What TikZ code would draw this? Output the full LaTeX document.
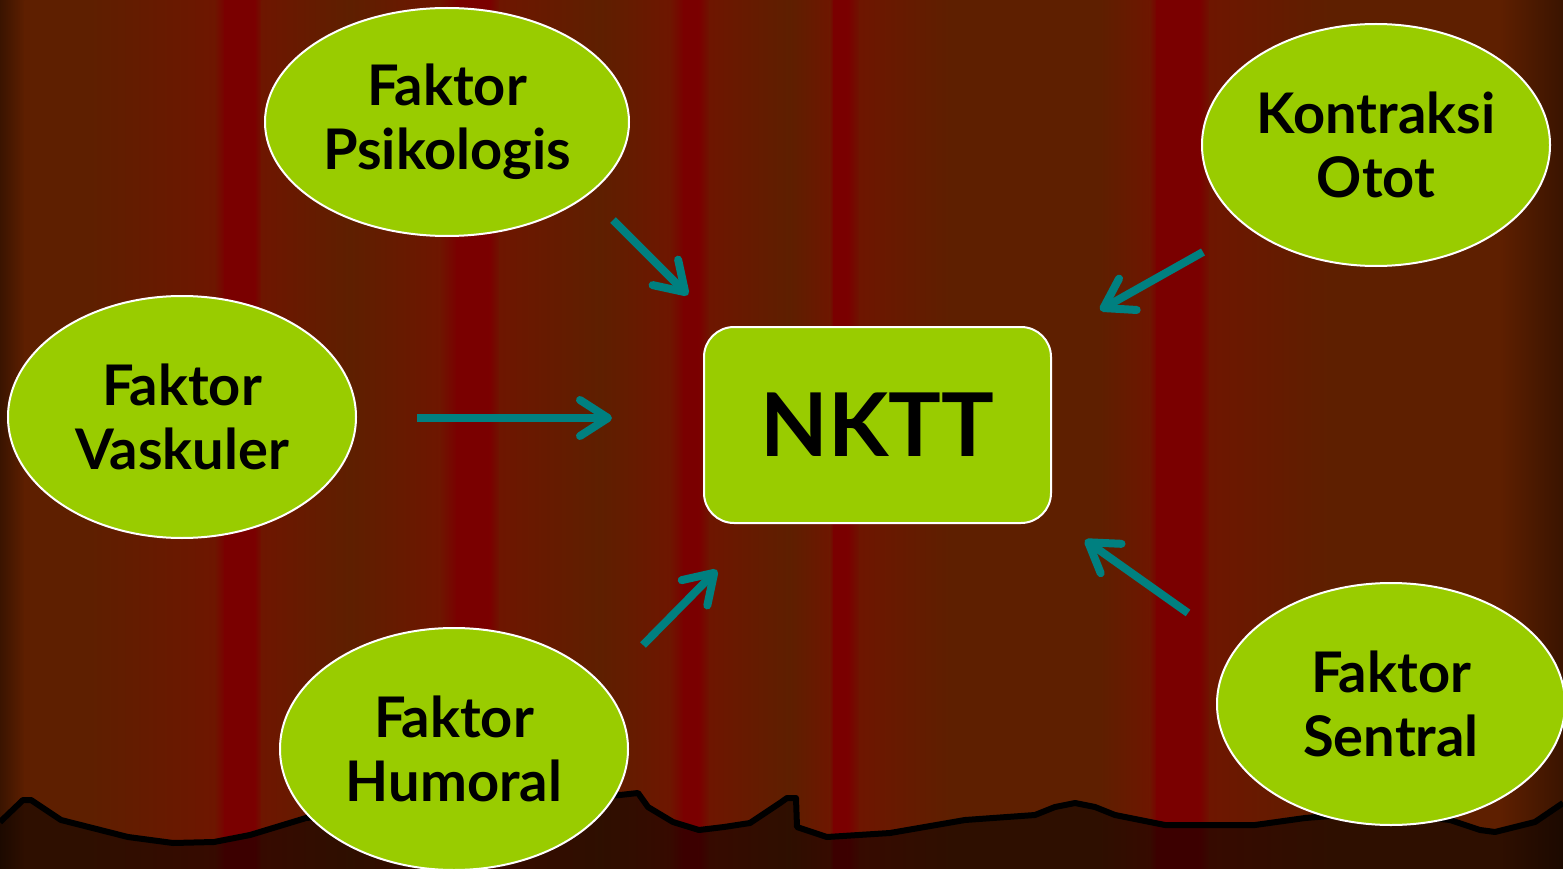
\documentclass[tikz,border=0pt]{standalone}
\usepackage{fontspec}
\setmainfont{Lato}
\usetikzlibrary{shapes.geometric,arrows.meta}
\definecolor{lime}{HTML}{99CC00}
\definecolor{teal}{HTML}{008080}
\definecolor{edge}{HTML}{3A1400}
\definecolor{brn}{HTML}{5E1F00}
\definecolor{mid}{HTML}{6E1600}
\definecolor{rd}{HTML}{7A0000}
\tikzset{
  ell/.style={ellipse, draw=white, line width=2pt, fill=lime, inner sep=0pt,
    minimum width=348pt, minimum height=242pt, align=center,
    font=\fontsize{56}{64}\selectfont\bfseries},
  centrebox/.style={rectangle, rounded corners=30pt, draw=white, line width=2pt,
    fill=lime, minimum width=347pt, minimum height=196pt,
    font=\fontsize{88}{90}\selectfont\bfseries},
  arr/.style={draw=teal, line width=8pt,
    -{Straight Barb[round, length=28pt, width=36pt]}},
  hem/.style={draw=black, line width=6pt, line join=round}
}
\begin{document}
\begin{tikzpicture}[x=1pt,y=-1pt]
\useasboundingbox (0,0) rectangle (1563,869);
% curtain background
\foreach \xa/\xb/\ca/\cb in {0/25/edge/brn, 25/90/brn/brn, 90/215/brn/mid, 215/225/mid/rd,
  225/255/rd/rd, 255/262/rd/mid, 262/350/mid/brn, 350/440/brn/mid, 440/457/mid/rd,
  457/490/rd/rd, 490/500/rd/mid, 500/600/mid/brn, 600/670/brn/mid, 670/684/mid/rd,
  684/699/rd/rd, 699/710/rd/mid, 710/790/mid/brn, 790/830/brn/mid, 830/834/mid/rd,
  834/848/rd/rd, 848/860/rd/mid, 860/950/mid/brn, 950/1100/brn/brn, 1100/1150/brn/mid,
  1150/1157/mid/rd, 1157/1200/rd/rd, 1200/1210/rd/mid, 1210/1330/mid/brn,
  1330/1500/brn/brn, 1500/1563/brn/edge}
  {\fill[left color=\ca, right color=\cb] (\xa-0.3,0) rectangle (\xb+0.3,869);}
% bottom hem
\def\hempts{(0,822) (23,800) (31,800) (61,820) (128,837) (173,843) (214,842) (250,835)
  (306,818) (460,805) (620,795) (638,793) (648,807) (673,822) (699,830) (724,827)
  (750,823) (780,803) (787,798) (796,798) (797,827) (827,837) (890,833) (965,820)
  (1035,815) (1055,807) (1075,803) (1095,807) (1115,815) (1165,825) (1255,825)
  (1305,818) (1380,812) (1450,820) (1480,830) (1495,832) (1535,822) (1563,803)}
\fill[black, opacity=0.5] plot[sharp plot] coordinates {\hempts} -- (1563,869) -- (0,869) -- cycle;
\draw[hem] plot[sharp plot] coordinates {\hempts};
% nodes
\node[centrebox] (nktt) at (877.5,425) {NKTT};
\node[ell, minimum width=364pt, minimum height=228pt] (psi) at (447,122) {Faktor\\Psikologis};
\node[ell] (kon) at (1376,145) {Kontraksi\\Otot};
\node[ell] (vas) at (182,417) {Faktor\\Vaskuler};
\node[ell] (hum) at (454,749) {Faktor\\Humoral};
\node[ell] (sen) at (1391,704) {Faktor\\Sentral};
% arrow end points
\coordinate (psiA) at (613,220); \coordinate (psiB) at (688,295);
\coordinate (konA) at (1203,252); \coordinate (konB) at (1100,310);
\coordinate (vasA) at (417,418); \coordinate (vasB) at (612,418);
\coordinate (humA) at (643,645); \coordinate (humB) at (717,570);
\coordinate (senA) at (1188,613); \coordinate (senB) at (1085,540);
\draw[arr] (psiA) -- (psiB);
\draw[arr] (konA) -- (konB);
\draw[arr] (vasA) -- (vasB);
\draw[arr] (humA) -- (humB);
\draw[arr] (senA) -- (senB);
\end{tikzpicture}
\end{document}
